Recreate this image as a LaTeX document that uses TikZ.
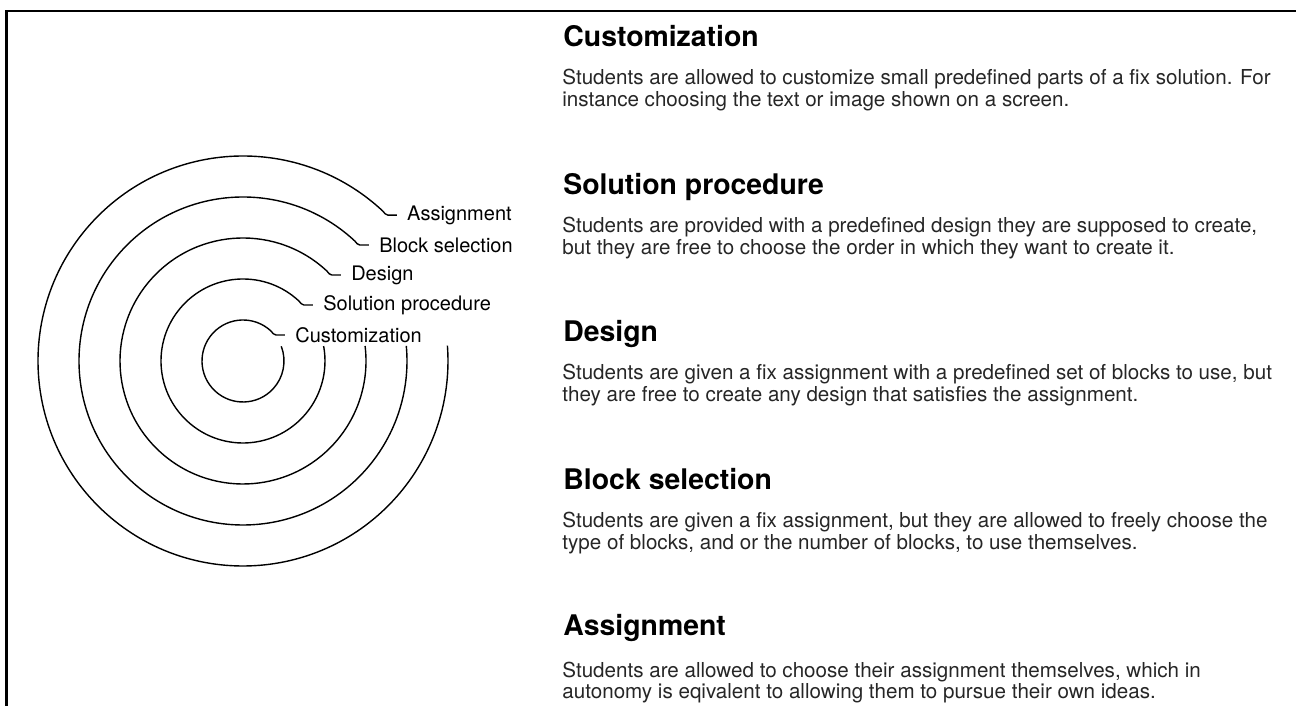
\documentclass[tikz,border=0pt]{standalone}
\usepackage{fontspec}
\setmainfont{TeX Gyre Heros}
\usetikzlibrary{calc,positioning}

\tikzset{
  ring/.style = {line width=0.7pt},
  ringlbl/.style = {anchor=west, inner xsep=5pt, inner ysep=0pt, font=\fontsize{10}{11}\selectfont},
  headline/.style = {anchor=base west, inner sep=0pt, font=\bfseries\fontsize{14.2}{17}\selectfont},
  bodytext/.style = {anchor=base west, inner sep=0pt, align=left, text=black!85, font=\fontsize{10.3}{9.25}\selectfont}
}

\begin{document}
\begin{tikzpicture}[x=0.5pt, y=0.5pt]
\useasboundingbox (0,0) rectangle (1296,706);
% frame
\coordinate (tr) at (1296,695);
\coordinate (tl) at (6.5,695);
\coordinate (bl) at (6.5,0);
\draw[line width=1.1pt] (tr) -- (tl) -- (bl);

% rings
\coordinate (c) at (243,345);
\node[ringlbl] (cust) at ($(c)+(47:41)+(14,-4)$) {Customization};
\node[ringlbl] (sol) at ($(c)+(47:82)+(14,-4)$) {Solution procedure};
\node[ringlbl] (des) at ($(c)+(47:123)+(14,-4)$) {Design};
\node[ringlbl] (blk) at ($(c)+(47:164)+(14,-4)$) {Block selection};
\node[ringlbl] (asg) at ($(c)+(47:205)+(14,-4)$) {Assignment};
\draw[ring] (cust.west) -- ++(-9,0) to[out=180,in=-43] ++(-5,4) arc[start angle=47, end angle=381, radius=41];
\draw[ring] (sol.west) -- ++(-9,0) to[out=180,in=-43] ++(-5,4) arc[start angle=47, end angle=370.5, radius=82];
\draw[ring] (des.west) -- ++(-9,0) to[out=180,in=-43] ++(-5,4) arc[start angle=47, end angle=367, radius=123];
\draw[ring] (blk.west) -- ++(-9,0) to[out=180,in=-43] ++(-5,4) arc[start angle=47, end angle=365.3, radius=164];
\draw[ring] (asg.west) -- ++(-9,0) to[out=180,in=-43] ++(-5,4) arc[start angle=47, end angle=364.3, radius=205];

% descriptions (body anchor = baseline of the second line)
\node[headline] (hcust) at (563,659) {Customization};
\node[bodytext] (tcust) at (562,599.5) {Students are allowed to customize small predefined parts of a fix solution. For\\instance choosing the text or image shown on a screen.};
\node[headline] (hsol) at (563,511) {Solution procedure};
\node[bodytext] (tsol) at (562,451.5) {Students are provided with a predefined design they are supposed to create,\\but they are free to choose the order in which they want to create it.};
\node[headline] (hdes) at (563,364) {Design};
\node[bodytext] (tdes) at (562,304.5) {Students are given a fix assignment with a predefined set of blocks to use, but\\they are free to create any design that satisfies the assignment.};
\node[headline] (hblk) at (563,216) {Block selection};
\node[bodytext] (tblk) at (562,156.5) {Students are given a fix assignment, but they are allowed to freely choose the\\type of blocks, and or the number of blocks, to use themselves.};
\node[headline] (hasg) at (563,70) {Assignment};
\node[bodytext] (tasg) at (562,7) {Students are allowed to choose their assignment themselves, which in\\autonomy is eqivalent to allowing them to pursue their own ideas.};
\end{tikzpicture}
\end{document}
